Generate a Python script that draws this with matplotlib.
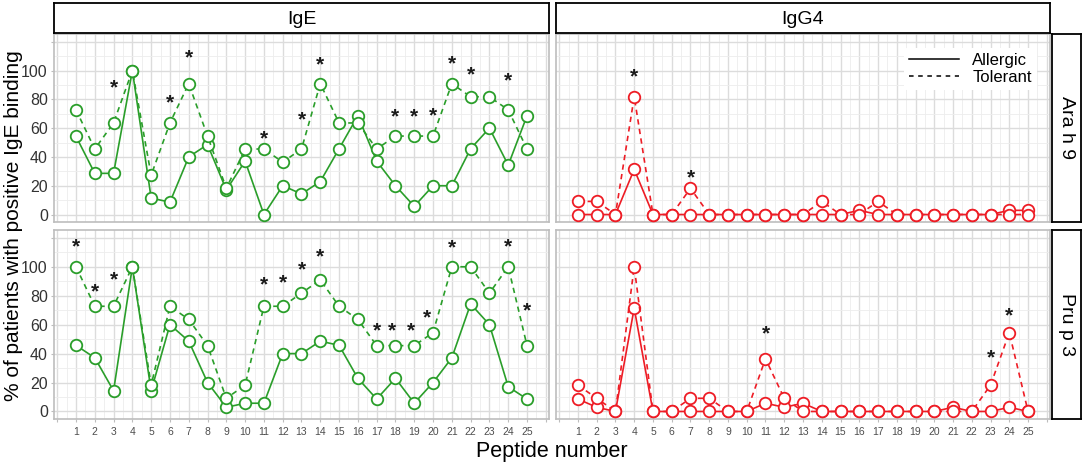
import matplotlib
matplotlib.use("Agg")
import matplotlib.pyplot as plt
from matplotlib.lines import Line2D
from matplotlib.ticker import MultipleLocator, FixedLocator

plt.rcParams['font.family'] = ['Liberation Sans', 'DejaVu Sans']

# ---------------- data ----------------
peptides = list(range(1, 26))
antibodies = ["IgE", "IgG4"]
allergens = ["Ara h 9", "Pru p 3"]
groups = ["Allergic", "Tolerant"]

# Ara h 9 - IgE
arah9_ige_allergic = [54.3, 28.6, 28.6, 100, 11.4, 8.6, 40.0, 48.6, 17.1, 37.1, 0, 20.0, 14.3,
                      22.9, 45.7, 68.6, 37.1, 20.0, 5.7, 20.0, 20.0, 45.7, 60.0, 34.3, 68.6]
arah9_ige_tolerant = [72.7, 45.5, 63.6, 100, 27.3, 63.6, 90.9, 54.5, 18.2, 45.5, 45.5, 36.4, 45.5,
                      90.9, 63.6, 63.6, 45.5, 54.5, 54.5, 54.5, 90.9, 81.8, 81.8, 72.7, 45.5]
arah9_ige_star_x = [3, 6, 7, 11, 13, 14, 18, 19, 20, 21, 22, 24]
arah9_ige_star_y = [90, 80, 111, 55, 68, 106, 70, 70, 71, 107, 99, 95]

# Ara h 9 - IgG4
arah9_igg4_allergic = [0, 0, 0, 31.4, 0, 0, 0, 0, 0, 0, 0, 0, 0,
                       0, 0, 2.9, 0, 0, 0, 0, 0, 0, 0, 2.9, 2.9]
arah9_igg4_tolerant = [9.1, 9.1, 0, 81.8, 0, 0, 18.2, 0, 0, 0, 0, 0, 0,
                       9.1, 0, 0, 9.1, 0, 0, 0, 0, 0, 0, 0, 0]
arah9_igg4_star_x = [4, 7]
arah9_igg4_star_y = [98, 28]

# Pru p 3 - IgE
prup3_ige_allergic = [45.7, 37.1, 14.3, 100, 14.3, 60.0, 48.6, 20.0, 2.9, 5.7, 5.7, 40.0, 40.0,
                      48.6, 45.7, 22.9, 8.6, 22.9, 5.7, 20.0, 37.1, 74.3, 60.0, 17.1, 8.6]
prup3_ige_tolerant = [100, 72.7, 72.7, 100, 18.2, 72.7, 63.6, 45.5, 9.1, 18.2, 72.7, 72.7, 81.8,
                      90.9, 72.7, 63.6, 45.5, 45.5, 45.5, 54.5, 100, 100, 81.8, 100, 45.5]
prup3_ige_star_x = [1, 2, 3, 11, 12, 13, 14, 17, 17.8, 18.8, 19.7, 21, 24, 25]
prup3_ige_star_y = [116, 85, 93, 90, 91, 100, 109, 58, 58, 58, 67, 115, 116, 72]

# Pru p 3 - IgG4
prup3_igg4_allergic = [8.6, 2.9, 0, 71.4, 0, 0, 0, 0, 0, 0, 5.7, 2.9, 5.7,
                       0, 0, 0, 0, 0, 0, 0, 2.9, 0, 0, 2.9, 0]
prup3_igg4_tolerant = [18.2, 9.1, 0, 100, 0, 0, 9.1, 9.1, 0, 0, 36.4, 9.1, 0,
                       0, 0, 0, 0, 0, 0, 0, 0, 0, 18.2, 54.5, 0]
prup3_igg4_star_x = [11, 23, 24]
prup3_igg4_star_y = [56, 39, 68]

y_ticks = [0, 20, 40, 60, 80, 100]
colors = {"IgE": "#2A9E2A", "IgG4": "#EE1C25"}

panels = {
    ("Ara h 9", "IgE"): (arah9_ige_allergic, arah9_ige_tolerant, arah9_ige_star_x, arah9_ige_star_y),
    ("Ara h 9", "IgG4"): (arah9_igg4_allergic, arah9_igg4_tolerant, arah9_igg4_star_x, arah9_igg4_star_y),
    ("Pru p 3", "IgE"): (prup3_ige_allergic, prup3_ige_tolerant, prup3_ige_star_x, prup3_ige_star_y),
    ("Pru p 3", "IgG4"): (prup3_igg4_allergic, prup3_igg4_tolerant, prup3_igg4_star_x, prup3_igg4_star_y),
}

# ---------------- layout ----------------
W, H = 1084, 466
fig = plt.figure(figsize=(W / 100, H / 100), dpi=100)

def fx(px):
    return px / W

def fy(py):
    return 1 - py / H

col_x = [(54, 549), (556, 1050)]
row_y = [(34, 222), (230, 419)]

border_grey = "#BDBDBD"
grid_major = "#DCDCDC"
grid_minor = "#EDEDED"
star_fs = 15

axes = {}
for r, allergen in enumerate(allergens):
    for c, ab in enumerate(antibodies):
        x0, x1 = col_x[c]
        y0, y1 = row_y[r]
        ax = fig.add_axes([fx(x0), fy(y1), fx(x1) - fx(x0), fy(y0) - fy(y1)])
        axes[(allergen, ab)] = ax
        allergic, tolerant, sx, sy = panels[(allergen, ab)]
        col = colors[ab]
        ax.plot(peptides, allergic, linestyle='-', color=col, lw=1.2,
                marker='o', markersize=8.3, markerfacecolor='white',
                markeredgecolor=col, markeredgewidth=1.3, zorder=3)
        ax.plot(peptides, tolerant, linestyle=(0, (3.2, 2.6)), color=col, lw=1.2,
                marker='o', markersize=8.3, markerfacecolor='white',
                markeredgecolor=col, markeredgewidth=1.3, zorder=3)
        for xs, ys in zip(sx, sy):
            ax.annotate("*", (xs, ys), xytext=(0, -0.42 * star_fs), textcoords='offset points',
                        ha='center', va='baseline', fontsize=star_fs, fontweight='bold',
                        color='#1A1A1A', zorder=4)
        ax.set_xlim(-0.17, 26.17)
        ax.set_ylim(-5.2, 125.4)
        ax.xaxis.set_major_locator(FixedLocator(list(range(0, 27))))
        ax.xaxis.set_minor_locator(MultipleLocator(0.5))
        ax.yaxis.set_major_locator(FixedLocator([0, 20, 40, 60, 80, 100, 120]))
        ax.yaxis.set_minor_locator(MultipleLocator(10))
        ax.grid(which='major', color=grid_major, lw=1.0, zorder=0)
        ax.grid(which='minor', color=grid_minor, lw=0.6, zorder=0)
        ax.set_axisbelow(True)
        for s in ax.spines.values():
            s.set_color(border_grey)
            s.set_linewidth(1.2)
        ax.tick_params(which='both', length=0)
        if r == 1:
            ax.set_xticks(list(range(0, 27)))
            ax.set_xticklabels([str(p) if p in peptides else "" for p in range(0, 27)],
                               fontsize=7.5, color='#4D4D4D')
            ax.tick_params(axis='x', length=2.5, pad=3, color=border_grey)
        else:
            ax.set_xticklabels([])
        if c == 0:
            ax.set_yticks([0, 20, 40, 60, 80, 100, 120])
            ax.set_yticklabels([str(v) if v in y_ticks else "" for v in [0, 20, 40, 60, 80, 100, 120]],
                               fontsize=11.5, color='#333333')
            ax.tick_params(axis='y', length=2.5, pad=2, color=border_grey)
        else:
            ax.set_yticklabels([])

# top strips
for c, ab in enumerate(antibodies):
    x0, x1 = col_x[c]
    sax = fig.add_axes([fx(x0), fy(33), fx(x1) - fx(x0), fy(3) - fy(33)])
    sax.set_xticks([]); sax.set_yticks([])
    sax.set_facecolor('white')
    for s in sax.spines.values():
        s.set_color('black'); s.set_linewidth(1.3)
    sax.text(0.5, 0.45, ab, ha='center', va='center', fontsize=14, color='black',
             transform=sax.transAxes)

# right strips
for r, allergen in enumerate(allergens):
    y0, y1 = row_y[r]
    sax = fig.add_axes([fx(1052), fy(y1), fx(1081) - fx(1052), fy(y0) - fy(y1)])
    sax.set_xticks([]); sax.set_yticks([])
    for s in sax.spines.values():
        s.set_color('black'); s.set_linewidth(1.3)
    sax.text(0.5, 0.5, allergen, ha='center', va='center', fontsize=14, rotation=-90,
             color='black', transform=sax.transAxes)

# legend
handles = [Line2D([0], [0], color='black', lw=1.1, linestyle='-'),
           Line2D([0], [0], color='black', lw=1.1, linestyle=(0, (3, 3)))]
leg = axes[("Ara h 9", "IgG4")].legend(handles, groups, loc='upper right',
                                        bbox_to_anchor=(0.99, 0.97), fontsize=12,
                                        frameon=True, handlelength=3.0, handletextpad=0.8,
                                        labelspacing=0.1, borderpad=0.3)
leg.get_frame().set_edgecolor('none')
leg.get_frame().set_facecolor('white')
leg.get_frame().set_alpha(1)

fig.text(fx(552), fy(452), "Peptide number", ha='center', va='center', fontsize=15.5)
fig.text(fx(14), fy(226), "% of patients with positive IgE binding", ha='center', va='center',
         rotation=90, fontsize=15)

fig.savefig("out.png", dpi=100)
